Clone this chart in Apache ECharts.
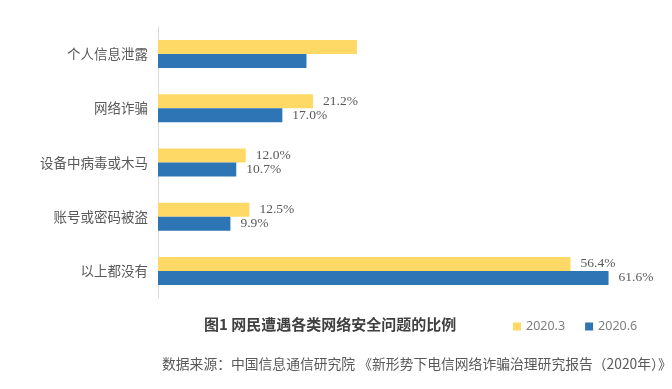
<!DOCTYPE html>
<html><head><meta charset="utf-8">
<script src="https://cdn.jsdelivr.net/npm/echarts@6/dist/echarts.min.js"></script>
<style>html,body{margin:0;padding:0;background:#fff}#c{width:672px;height:389px}</style>
</head><body><div id="c"></div>
<script>
var categories = ['个人信息泄露','网络诈骗','设备中病毒或木马','账号或密码被盗','以上都没有'];
var seriesNames = ['2020.3','2020.6'];
var values2020_3 = [27.2, 21.2, 12.0, 12.5, 56.4];
var values2020_6 = [20.3, 17.0, 10.7, 9.9, 61.6];
var hiddenLabelIndex = [0];

function toData(arr){
  return arr.map(function(v,i){
    return hiddenLabelIndex.indexOf(i) >= 0 ? {value:v, label:{show:false}} : v;
  });
}
var labelStyle = {show:true, position:'right', distance:10, formatter:function(p){return p.value.toFixed(1)+'%';},
  color:'#595959', fontFamily:'Liberation Serif', fontSize:13.5};

var chart = echarts.init(document.getElementById('c'));
chart.setOption({
  animation:false,
  grid:{left:158, top:27, width:512, height:271, containLabel:false},
  xAxis:{type:'value', min:0, max:70, show:false},
  yAxis:{type:'category', data:categories, inverse:true,
    axisLine:{show:true, lineStyle:{color:'#D9D9D9', width:1}},
    axisTick:{show:false},
    axisLabel:{color:'#595959', fontSize:13.5, margin:10, fontFamily:'Noto Sans CJK SC'}},
  legend:{data:seriesNames, left:508, top:315, itemWidth:8, itemHeight:8, itemGap:20, icon:'rect',
    textStyle:{color:'#7F7F7F', fontSize:12.5, fontFamily:'Noto Sans'}},
  title:[
    {text:'图1 网民遭遇各类网络安全问题的比例', left:199, top:312,
      textStyle:{fontSize:15, fontWeight:'bold', color:'#404040', fontFamily:'Noto Sans CJK SC'}},
    {text:'数据来源：中国信息通信研究院 《新形势下电信网络诈骗治理研究报告（2020年）》', left:157, top:352,
      textStyle:{fontSize:13.8, fontWeight:'normal', color:'#595959', fontFamily:'Noto Sans CJK SC'}}
  ],
  series:[
    {name:seriesNames[0], type:'bar', data:toData(values2020_3), barWidth:14, barGap:'0%', barCategoryGap:'48%',
      itemStyle:{color:'#FFD966'}, label:labelStyle},
    {name:seriesNames[1], type:'bar', data:toData(values2020_6), barWidth:14, barGap:'0%',
      itemStyle:{color:'#2E75B6'}, label:labelStyle}
  ]
});
</script></body></html>
